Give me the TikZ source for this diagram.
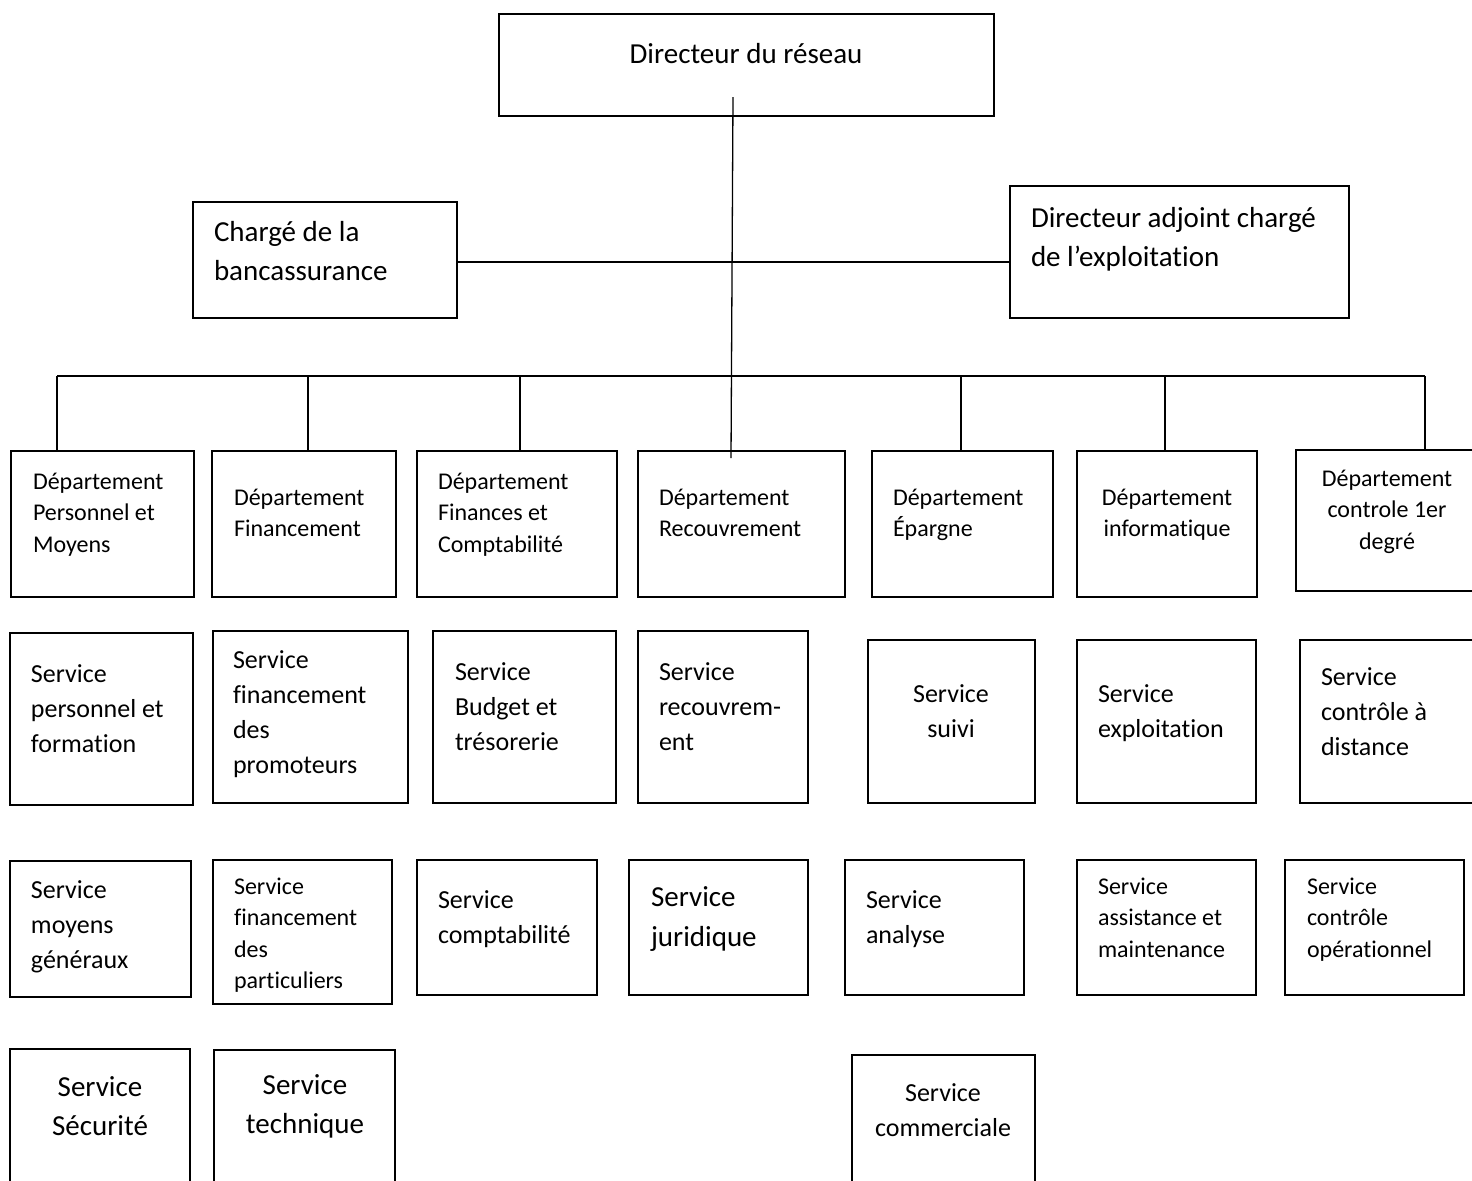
\documentclass[tikz,border=0pt]{standalone}
\usepackage{fontspec}
\setmainfont{Carlito}[Ligatures=NoCommon]
\usetikzlibrary{fit}
\begin{document}
\begin{tikzpicture}[x=0.5pt,y=-0.5pt,
  box/.style={draw, line width=1.3pt, inner sep=0pt, outer sep=0pt, rectangle},
  wire/.style={line width=0.65pt},
  txt/.style={inner sep=0pt, outer sep=0pt},
  small/.style={txt, font=\fontsize{12}{15.75}\selectfont},
  medium/.style={txt, font=\fontsize{13}{17.5}\selectfont},
  large/.style={txt, font=\fontsize{14.5}{19.5}\selectfont},
  lft/.style={anchor=base west, align=left},
  ctr/.style={anchor=base, align=center}]
\useasboundingbox (0,0) rectangle (1472,1180);
\clip (0,0) rectangle (1472,1180);

% Text nodes are placed by the baseline of their last line.

% --- direction ---
\node[box, fit={(499,14) (994,116)}] (dir) {};
\node[large, ctr] (dirT) at (746,63) {Directeur du réseau};
\node[box, fit={(193,202) (457,318)}] (charge) {};
\node[large, lft] (chargeT) at (214,280) {Chargé de la\\bancassurance};
\node[box, fit={(1010,186) (1349,318)}] (adj) {};
\node[large, lft] (adjT) at (1031,266) {Directeur adjoint chargé\\de l’exploitation};

% --- départements ---
\node[box, fit={(11,451) (194,597)}] (d1) {};
\node[small, lft] (d1T) at (33,552) {Département\\Personnel et\\Moyens};
\node[box, fit={(212,451) (396,597)}] (d2) {};
\node[small, lft] (d2T) at (234,536.5) {Département\\Financement};
\node[box, fit={(417,451) (617,597)}] (d3) {};
\node[small, lft] (d3T) at (438,552) {Département\\Finances et\\Comptabilité};
\node[box, fit={(638,451) (845,597)}] (d4) {};
\node[small, lft] (d4T) at (659,536.5) {Département\\Recouvrement};
\node[box, fit={(872,451) (1053,597)}] (d5) {};
\node[small, lft] (d5T) at (893,536.5) {Département\\Épargne};
\node[box, fit={(1077,451) (1257,597)}] (d6) {};
\node[small, ctr] (d6T) at (1167,536.5) {Département\\informatique};
\node[box, fit={(1296,450) (1482,591)}] (d7) {};
\node[small, ctr] (d7T) at (1387,549) {Département\\controle 1er\\degré};

% --- services, first row ---
\node[box, fit={(10,633) (193,805)}] (s1) {};
\node[medium, lft] (s1T) at (31,752) {Service\\personnel et\\formation};
\node[box, fit={(213,631) (408,803)}] (s2) {};
\node[medium, lft] (s2T) at (233,773) {Service\\financement\\des\\promoteurs};
\node[box, fit={(433,631) (616,803)}] (s3) {};
\node[medium, lft] (s3T) at (455,750) {Service\\Budget et\\trésorerie};
\node[box, fit={(638,631) (808,803)}] (s4) {};
\node[medium, lft] (s4T) at (659,750) {Service\\recouvrem-\\ent};
\node[box, fit={(868,640) (1035,803)}] (s5) {};
\node[medium, ctr] (s5T) at (951,737) {Service\\suivi};
\node[box, fit={(1077,640) (1256,803)}] (s6) {};
\node[medium, lft] (s6T) at (1098,737) {Service\\exploitation};
\node[box, fit={(1300,640) (1482,803)}] (s7) {};
\node[medium, lft] (s7T) at (1321,755) {Service\\contrôle à\\distance};

% --- services, second row ---
\node[box, fit={(10,861) (191,997)}] (r1) {};
\node[medium, lft] (r1T) at (31,968) {Service\\moyens\\généraux};
\node[box, fit={(213,860) (392,1004)}] (r2) {};
\node[small, lft] (r2T) at (234,988.5) {Service\\financement\\des\\particuliers};
\node[box, fit={(417,860) (597,995)}] (r3) {};
\node[medium, lft] (r3T) at (438,943) {Service\\comptabilité};
\node[box, fit={(629,860) (808,995)}] (r4) {};
\node[large, lft, font=\fontsize{14.5}{20}\selectfont] (r4T) at (651,946) {Service\\juridique};
\node[box, fit={(845,860) (1024,995)}] (r5) {};
\node[medium, lft] (r5T) at (866,943) {Service\\analyse};
\node[box, fit={(1077,860) (1256,995)}] (r6) {};
\node[small, lft] (r6T) at (1098,957) {Service\\assistance et\\maintenance};
\node[box, fit={(1285,860) (1464,995)}] (r7) {};
\node[small, lft] (r7T) at (1307,957) {Service\\contrôle\\opérationnel};

% --- services, third row ---
\node[box, fit={(10,1049) (190,1195)}] (t1) {};
\node[large, ctr] (t1T) at (100,1135) {Service\\Sécurité};
\node[box, fit={(214,1050) (395,1195)}] (t2) {};
\node[large, ctr] (t2T) at (305,1133) {Service\\technique};
\node[box, fit={(852,1055) (1035,1195)}] (t3) {};
\node[medium, ctr] (t3T) at (943,1136) {Service\\commerciale};

% --- liaisons ---
\coordinate (trunkTop) at (733,97);
\coordinate (trunkEnd) at (731,458);
\draw[wire] (trunkTop) -- (trunkEnd);
\coordinate (side) at (0,262);
\draw[wire] (charge.east |- side) -- (adj.west |- side);
\coordinate (busL) at (57,376);
\coordinate (busR) at (1425,376);
\draw[wire] (busL) -- (busR);
\coordinate (b2) at (308,376);
\coordinate (b3) at (520,376);
\coordinate (b5) at (961,376);
\coordinate (b6) at (1165,376);
\draw[wire] (busL) -- (busL |- d1.north);
\draw[wire] (b2) -- (b2 |- d2.north);
\draw[wire] (b3) -- (b3 |- d3.north);
\draw[wire] (b5) -- (b5 |- d5.north);
\draw[wire] (b6) -- (b6 |- d6.north);
\draw[wire] (busR) -- (busR |- d7.north);
\end{tikzpicture}
\end{document}
